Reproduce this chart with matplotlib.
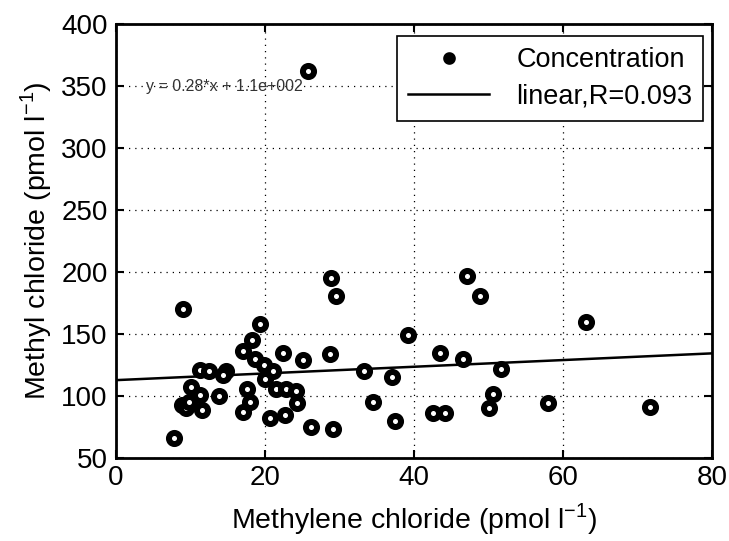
import numpy as np
import matplotlib
matplotlib.use("Agg")
import matplotlib.pyplot as plt

# --- data ---
methylene = [7.8, 9.0, 8.8, 9.4, 9.8, 10.1, 11.3, 11.5, 11.3, 12.5,
             14.8, 14.3, 13.8, 17.1, 17.6, 18.0, 17.1, 18.3, 18.6, 19.3,
             19.8, 20.0, 21.1, 21.5, 20.7, 22.4, 22.8, 24.1, 24.3, 22.7,
             25.1, 26.2, 25.8, 28.7, 28.8, 29.5, 29.1, 33.3, 34.5, 37.1,
             37.5, 39.2, 42.5, 44.1, 43.5, 46.5, 47.1, 48.9, 50.0, 50.6,
             51.6, 58.0, 63.0, 71.7]
methyl = [66, 170, 93, 90, 95, 107, 101, 89, 121, 120,
          120, 117, 100, 136, 106, 95, 87, 145, 130, 158,
          125, 114, 120, 106, 82, 135, 106, 104, 94, 85,
          129, 75, 362, 134, 195, 181, 73, 120, 95, 115,
          80, 149, 86, 86, 135, 130, 197, 181, 90, 102,
          122, 94, 160, 91]

fit_slope = 0.27
fit_intercept = 112.8
fit_x = [0, 80]
fit_text = "y = 0.28*x + 1.1e+002"
fit_label = "linear,R=0.093"
point_label = "Concentration"

x_ticks = [0, 20, 40, 60, 80]
y_ticks = [50, 100, 150, 200, 250, 300, 350, 400]

plt.rcParams['font.family'] = ['Liberation Sans', 'DejaVu Sans']
plt.rcParams['mathtext.fontset'] = 'custom'
plt.rcParams['mathtext.rm'] = 'Liberation Sans'

fig = plt.figure(figsize=(7.29, 5.41), dpi=100)
ax = fig.add_axes([0.159, 0.1534, 0.818, 0.8022])

ax.plot(methylene, methyl, 'o', ls='none', mfc='white', mec='black',
        ms=8, mew=4.3, label=point_label, zorder=3)
fit_y = [fit_slope * v + fit_intercept for v in fit_x]
ax.plot(fit_x, fit_y, '-', color='black', lw=1.8, label=fit_label, zorder=2)

ax.text(4.0, 350, fit_text, fontsize=11.5, va='center', ha='left',
        color='#333333')

ax.set_xlim(0, 80)
ax.set_ylim(50, 400)
ax.set_xticks(x_ticks)
ax.set_yticks(y_ticks)
ax.grid(True, ls=(0, (1, 4)), color='black', lw=0.9)
ax.tick_params(direction='in', length=6, width=1.5, top=True, right=True,
               labelsize=20)
ax.tick_params(axis='x', pad=5)
ax.tick_params(axis='y', pad=6)
for s in ax.spines.values():
    s.set_linewidth(2)

ax.set_xlabel(r"Methylene chloride (pmol l$^{-1}$)", fontsize=20.5, labelpad=7)
ax.set_ylabel(r"Methyl chloride (pmol l$^{-1}$)", fontsize=20.5, labelpad=5)

leg = ax.legend(loc='upper right', fontsize=19.5, frameon=True, fancybox=False,
                edgecolor='black', framealpha=1, markerscale=0.6,
                borderpad=0.4, handlelength=3.0, labelspacing=0.4,
                handletextpad=1.0, borderaxespad=0,
                bbox_to_anchor=(0.985, 0.972))
leg.get_frame().set_linewidth(1.2)

fig.savefig("out.png", dpi=100)
